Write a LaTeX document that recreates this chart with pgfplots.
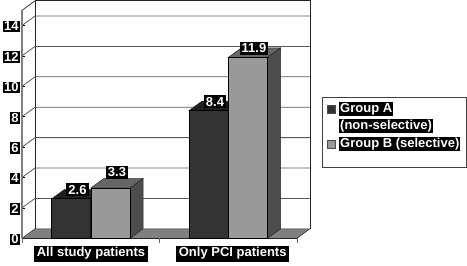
\documentclass[border=0pt]{standalone}
\usepackage{fontspec}
\setmainfont{Liberation Sans}
\usepackage{pgfplots}
\pgfplotsset{compat=1.18}
\definecolor{barA}{HTML}{333333}
\definecolor{barB}{HTML}{999999}
\definecolor{sideB}{HTML}{4D4D4D}
\definecolor{topB}{HTML}{666666}
\definecolor{topA}{HTML}{1F1F1F}
\definecolor{floorc}{HTML}{808080}
\definecolor{edge}{HTML}{262626}
\tikzset{lab/.style={fill=black,text=white,font=\bfseries\fontsize{13}{14}\selectfont,inner sep=1.2pt}}
\begin{document}
\begin{tikzpicture}
\begin{axis}[
  scale only axis, width=445pt, height=238.3pt,
  xmin=22, xmax=467, ymin=0, ymax=15.678,
  clip=false,
  axis lines*=left,
  axis line style={draw=none},
  /pgf/number format/assume math mode=true,
  ytick={0,2,...,14},
  xtick={91,232.7},
  xticklabels={All study patients,Only PCI patients},
  tick style={draw=black,line width=0.6pt},
  major tick length=3pt,
  xtick style={draw=none},
  yticklabel style={lab,xshift=-2pt,yshift=-1pt},
  xticklabel style={lab,inner xsep=2.5pt,inner ysep=2pt,yshift=-7pt},
]
% bounding box
\path (axis cs:0,-1.776) rectangle (axis cs:467,15.678);
% floor
\addplot[fill=floorc,draw=edge,line width=0.5pt] coordinates {(22,0)(35,0.625)(310,0.625)(297,0)} -- cycle;
% left wall and back wall frame
\addplot[draw=edge,line width=0.7pt] coordinates {(35,0.625)(35,15.625)(310,15.625)(310,0.625)};
\addplot[draw=edge,line width=0.7pt] coordinates {(22,15)(35,15.625)};
\addplot[draw=gray,line width=1.2pt] coordinates {(22,0)(22,15)};
\addplot[draw=edge,line width=0.7pt] coordinates {(22,0)(297,0)};
% grid
\pgfplotsinvokeforeach{2,4,...,14}{
  \addplot[draw=black!65,line width=0.8pt] coordinates {(22,#1)(35,{#1+0.625})(310,{#1+0.625})};
}
% x ticks
\addplot[draw=black!60,line width=0.6pt,forget plot] coordinates {(22,0)(22,-0.33)};
\addplot[draw=black!60,line width=0.6pt,forget plot] coordinates {(159.5,0)(159.5,-0.33)};
\addplot[draw=black!60,line width=0.6pt,forget plot] coordinates {(297,0)(297,-0.33)};
% tops and sides of group A
\addplot[fill=topA,draw=edge,line width=0.5pt] coordinates {(51.7,2.6)(64.7,3.225)(103.7,3.225)(90.7,2.6)} -- cycle;
\addplot[fill=topA,draw=edge,line width=0.5pt] coordinates {(189,8.4)(202,9.025)(241.3,9.025)(228.3,8.4)} -- cycle;
% group A fronts
\addplot[ybar,bar width=39pt,bar shift=0pt,fill=barA,draw=black,line width=0.6pt] coordinates {(71.2,2.6)(208.65,8.4)};
% tops and sides of group B
\addplot[fill=topB,draw=edge,line width=0.5pt] coordinates {(90.7,3.3)(103.7,3.925)(143,3.925)(130,3.3)} -- cycle;
\addplot[fill=sideB,draw=edge,line width=0.5pt] coordinates {(130,0)(143,0.625)(143,3.925)(130,3.3)} -- cycle;
\addplot[fill=topB,draw=edge,line width=0.5pt] coordinates {(228.3,11.9)(241.3,12.525)(280.7,12.525)(267.3,11.9)} -- cycle;
\addplot[fill=sideB,draw=edge,line width=0.5pt] coordinates {(267.3,0)(280.7,0.625)(280.7,12.525)(267.3,11.9)} -- cycle;
% group B fronts
\addplot[ybar,bar width=39pt,bar shift=0pt,fill=barB,draw=black,line width=0.6pt] coordinates {(110.35,3.3)(247.8,11.9)};
% value labels
\addplot[draw=none,nodes near coords,point meta=y,nodes near coords style={lab,inner sep=2pt,anchor=center,yshift=9pt,/pgf/number format/fixed,/pgf/number format/precision=1,/pgf/number format/fixed zerofill,/pgf/number format/assume math mode=true}] coordinates {(77.5,2.6)(215,8.4)(254,11.9)};
\addplot[draw=none,nodes near coords,point meta=y,nodes near coords style={lab,inner sep=2pt,anchor=center,yshift=16pt,/pgf/number format/fixed,/pgf/number format/precision=1,/pgf/number format/fixed zerofill,/pgf/number format/assume math mode=true}] coordinates {(117,3.3)};
% legend
\draw[draw=black!75,line width=0.8pt,fill=white] (axis cs:322.3,9.24) rectangle (axis cs:466.5,4.64);
\fill[barA,draw=black!70,line width=0.5pt] (axis cs:327,8.76) rectangle (axis cs:335,8.24);
\fill[barB,draw=black!70,line width=0.5pt] (axis cs:327,6.46) rectangle (axis cs:335,5.94);
\node[lab,anchor=west,inner sep=1pt] at (axis cs:339,8.5) {Group A};
\node[lab,anchor=west,inner sep=1pt] at (axis cs:339,7.4) {(non-selective)};
\node[lab,anchor=west,inner sep=1pt] at (axis cs:339,6.2) {Group B (selective)};
\end{axis}
\end{tikzpicture}
\end{document}
